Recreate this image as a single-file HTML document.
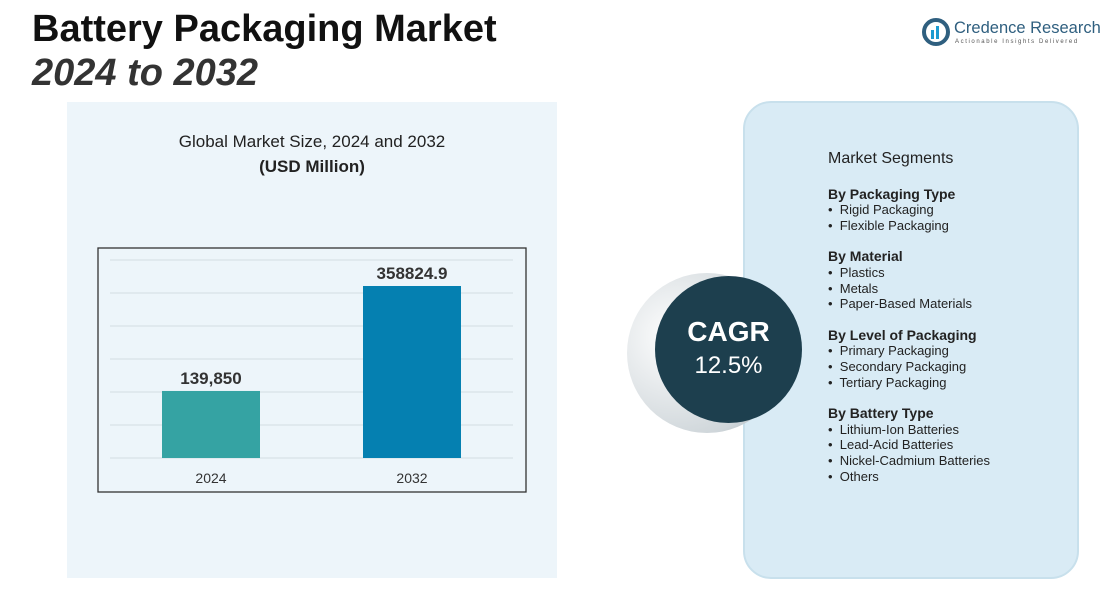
<!DOCTYPE html>
<html><head><meta charset="utf-8"><style>
*{margin:0;padding:0;box-sizing:border-box}
body{width:1110px;height:611px;overflow:hidden;background:#fff;font-family:"Liberation Sans",sans-serif;position:relative}
.abs{position:absolute;white-space:nowrap}
</style></head><body>
<div class="abs" style="left:32px;top:8px;font-size:38px;font-weight:bold;color:#111;line-height:42px">Battery Packaging Market</div>
<div class="abs" style="left:32px;top:52px;font-size:38px;font-weight:bold;font-style:italic;color:#333;line-height:42px">2024 to 2032</div>
<div class="abs" style="left:922px;top:18px;width:186px;height:32px">
<svg width="30" height="30" style="position:absolute;left:0;top:0"><circle cx="14" cy="14" r="12" fill="none" stroke="#2f5f7f" stroke-width="4"/><rect x="9" y="12" width="3" height="9" fill="#1c9bd0"/><rect x="14" y="8" width="3" height="13" fill="#1c9bd0"/></svg>
<div class="abs" style="left:32px;top:1px;font-size:16.5px;color:#2f5f7f">Credence Research</div>
<div class="abs" style="left:33px;top:21px;font-size:6px;letter-spacing:1.6px;color:#555">Actionable Insights Delivered</div>
</div>
<div class="abs" style="left:67px;top:102px;width:490px;height:476px;background:#edf5fa"></div>
<div class="abs" style="left:67px;top:132px;width:490px;text-align:center;font-size:17px;color:#222">Global Market Size, 2024 and 2032</div>
<div class="abs" style="left:67px;top:157px;width:490px;text-align:center;font-size:17px;font-weight:bold;color:#222">(USD Million)</div>
<svg class="abs" id="chart" style="left:0;top:0" width="1110" height="611"></svg>
<div class="abs" style="left:743px;top:101px;width:336px;height:478px;border-radius:28px;background:#d9ebf5;border:2px solid #c8e0ec"></div>
<div class="abs" style="left:627px;top:273px;width:160px;height:160px;border-radius:50%;background:radial-gradient(circle at 30% 40%,#fff,#cfd6da 70%,#9aa6ad)"></div>
<div class="abs" style="left:655px;top:276px;width:147px;height:147px;border-radius:50%;background:#1d3f4e;color:#fff;text-align:center">
<div style="margin-top:40px;font-size:28px;font-weight:bold">CAGR</div>
<div style="font-size:24px;margin-top:4px">12.5%</div></div>
<div class="abs" style="left:828px;top:151px;font-size:13px;color:#222;line-height:15.6px">
<div style="font-size:16px;margin-bottom:20px">Market Segments</div>
<div style="font-weight:bold;font-size:14px">By Packaging Type</div>
<div>•&nbsp; Rigid Packaging</div><div>•&nbsp; Flexible Packaging</div>
<div style="font-weight:bold;font-size:14px;margin-top:16px">By Material</div>
<div>•&nbsp; Plastics</div><div>•&nbsp; Metals</div><div>•&nbsp; Paper-Based Materials</div>
<div style="font-weight:bold;font-size:14px;margin-top:16px">By Level of Packaging</div>
<div>•&nbsp; Primary Packaging</div><div>•&nbsp; Secondary Packaging</div><div>•&nbsp; Tertiary Packaging</div>
<div style="font-weight:bold;font-size:14px;margin-top:16px">By Battery Type</div>
<div>•&nbsp; Lithium-Ion Batteries</div><div>•&nbsp; Lead-Acid Batteries</div><div>•&nbsp; Nickel-Cadmium Batteries</div><div>•&nbsp; Others</div>
</div>
<script>
const categories=["2024","2032"];
const values=[139850,358824.9];
const valueLabels=["139,850","358824.9"];
const colors=["#35a3a3","#0580b1"];
const svg=document.getElementById('chart');
const NS="http://www.w3.org/2000/svg";
function mk(t,a){const e=document.createElementNS(NS,t);for(const k in a)e.setAttribute(k,a[k]);svg.appendChild(e);return e;}
const base=458,maxH=172,maxV=358824.9;
function y(v){return base-v/maxV*maxH;}
function xc(i){return 211+i*201;}
const box=mk('rect',{x:98,y:248,width:428,height:244,fill:'none',stroke:'#333','stroke-width':1.3});


for(let i=0;i<7;i++){const g=mk('line',{x1:110,x2:513,y1:260+i*33,y2:260+i*33,stroke:'#d3dde2','stroke-width':1});

}
categories.forEach((c,i)=>{
const b=mk('rect',{x:xc(i)-49,y:y(values[i]),width:98,height:base-y(values[i]),fill:colors[i]});


const l=mk('text',{x:xc(i),y:y(values[i])-7,'text-anchor':'middle','font-size':17,'font-weight':'bold',fill:'#333'});l.textContent=valueLabels[i];


const t=mk('text',{x:xc(i),y:483,'text-anchor':'middle','font-size':14,fill:'#333'});t.textContent=c;


});
</script>
</body></html>
